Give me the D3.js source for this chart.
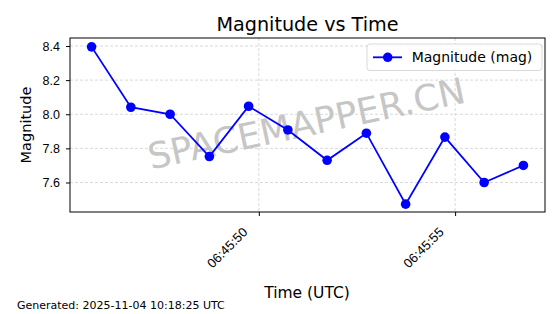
<!DOCTYPE html>
<html>
<head>
<meta charset="utf-8">
<script src="https://cdn.jsdelivr.net/npm/d3@7"></script>
<style>
  body { margin: 0; background: #fff; }
  svg { font-family: "DejaVu Sans", sans-serif; }
</style>
</head>
<body>
<svg id="chart" width="560" height="314"></svg>
<script>
// seconds after 06:45:00 UTC
const times = [45.74, 46.74, 47.74, 48.74, 49.74, 50.74, 51.74, 52.74, 53.74, 54.74, 55.74, 56.74];
const magnitudes = [8.395, 8.041, 8.0, 7.752, 8.047, 7.908, 7.730, 7.889, 7.473, 7.866, 7.600, 7.700];
const yTicks = [7.6, 7.8, 8.0, 8.2, 8.4];
const xTicks = [50, 55];
const xTickLabels = ["06:45:50", "06:45:55"];

const svg = d3.select("svg#chart");
const margin = { left: 70, right: 545, top: 38, bottom: 212 };

const xScale = d3.scaleLinear().domain([45.19, 57.29]).range([margin.left, margin.right]);
const yScale = d3.scaleLinear().domain([7.427, 8.447]).range([margin.bottom, margin.top]);

// grid
const grid = svg.append("g").attr("stroke", "#cfcfcf").attr("stroke-width", 0.8).attr("stroke-dasharray", "3,2");
grid.selectAll(".gy").data(yTicks).enter().append("line")
    .attr("x1", margin.left).attr("x2", margin.right)
    .attr("y1", d => yScale(d)).attr("y2", d => yScale(d));
grid.selectAll(".gx").data(xTicks).enter().append("line")
    .attr("y1", margin.top).attr("y2", margin.bottom)
    .attr("x1", d => xScale(d)).attr("x2", d => xScale(d));

// watermark
svg.append("text")
    .attr("transform", "translate(307,126) rotate(-12)")
    .attr("text-anchor", "middle")
    .attr("dominant-baseline", "middle")
    .attr("font-size", 36)
    .attr("fill", "#c6c6c6")
    .text("SPACEMAPPER.CN");

// axes
const xAxis = svg.append("g")
    .attr("transform", `translate(0,${margin.bottom})`)
    .call(d3.axisBottom(xScale).tickValues(xTicks).tickSize(4).tickFormat((d, i) => xTickLabels[i]));
xAxis.select(".domain").remove();
xAxis.selectAll("text")
    .attr("font-size", 13).attr("fill", "#000")
    .attr("text-anchor", "end")
    .attr("x", 0).attr("y", 0).attr("dy", 0)
    .attr("transform", "translate(-11,21) rotate(-45)");

const yAxis = svg.append("g")
    .attr("transform", `translate(${margin.left},0)`)
    .call(d3.axisLeft(yScale).tickValues(yTicks).tickSize(4).tickPadding(6).tickFormat(d3.format(".1f")));
yAxis.select(".domain").remove();
yAxis.selectAll("text").attr("font-size", 12.5).attr("fill", "#000");

svg.append("rect")
    .attr("x", margin.left).attr("y", margin.top)
    .attr("width", margin.right - margin.left).attr("height", margin.bottom - margin.top)
    .attr("fill", "none").attr("stroke", "#000").attr("stroke-width", 1);

// series
const line = d3.line()
    .x((d, i) => xScale(times[i]))
    .y(d => yScale(d));

svg.append("path")
    .datum(magnitudes)
    .attr("d", line)
    .attr("fill", "none")
    .attr("stroke", "#0000ff")
    .attr("stroke-width", 1.8);

svg.selectAll(".dot").data(magnitudes).enter().append("circle")
    .attr("class", "dot")
    .attr("cx", (d, i) => xScale(times[i]))
    .attr("cy", d => yScale(d))
    .attr("r", 4.8)
    .attr("fill", "#0000ff");

// legend
const legend = svg.append("g").attr("transform", "translate(367,44)");
legend.append("rect")
    .attr("width", 175).attr("height", 26.5).attr("rx", 3)
    .attr("fill", "#fff").attr("fill-opacity", 0.8)
    .attr("stroke", "#d9d9d9");
legend.append("line").attr("x1", 6).attr("x2", 35).attr("y1", 13.3).attr("y2", 13.3)
    .attr("stroke", "#0000ff").attr("stroke-width", 1.8);
legend.append("circle").attr("cx", 20.7).attr("cy", 13.3).attr("r", 4.8).attr("fill", "#0000ff");
legend.append("text").attr("x", 44.7).attr("y", 18).attr("font-size", 14).text("Magnitude (mag)");

// titles
svg.append("text").attr("x", 307.5).attr("y", 31).attr("text-anchor", "middle")
    .attr("font-size", 19.2).text("Magnitude vs Time");
svg.append("text").attr("x", 307).attr("y", 297.5).attr("text-anchor", "middle")
    .attr("font-size", 15.5).text("Time (UTC)");
svg.append("text").attr("transform", "translate(30.5,125) rotate(-90)").attr("text-anchor", "middle")
    .attr("font-size", 14.5).text("Magnitude");
svg.append("text").attr("x", 17).attr("y", 308.5).attr("font-size", 11)
    .text("Generated: 2025-11-04 10:18:25 UTC");
</script>
</body>
</html>
